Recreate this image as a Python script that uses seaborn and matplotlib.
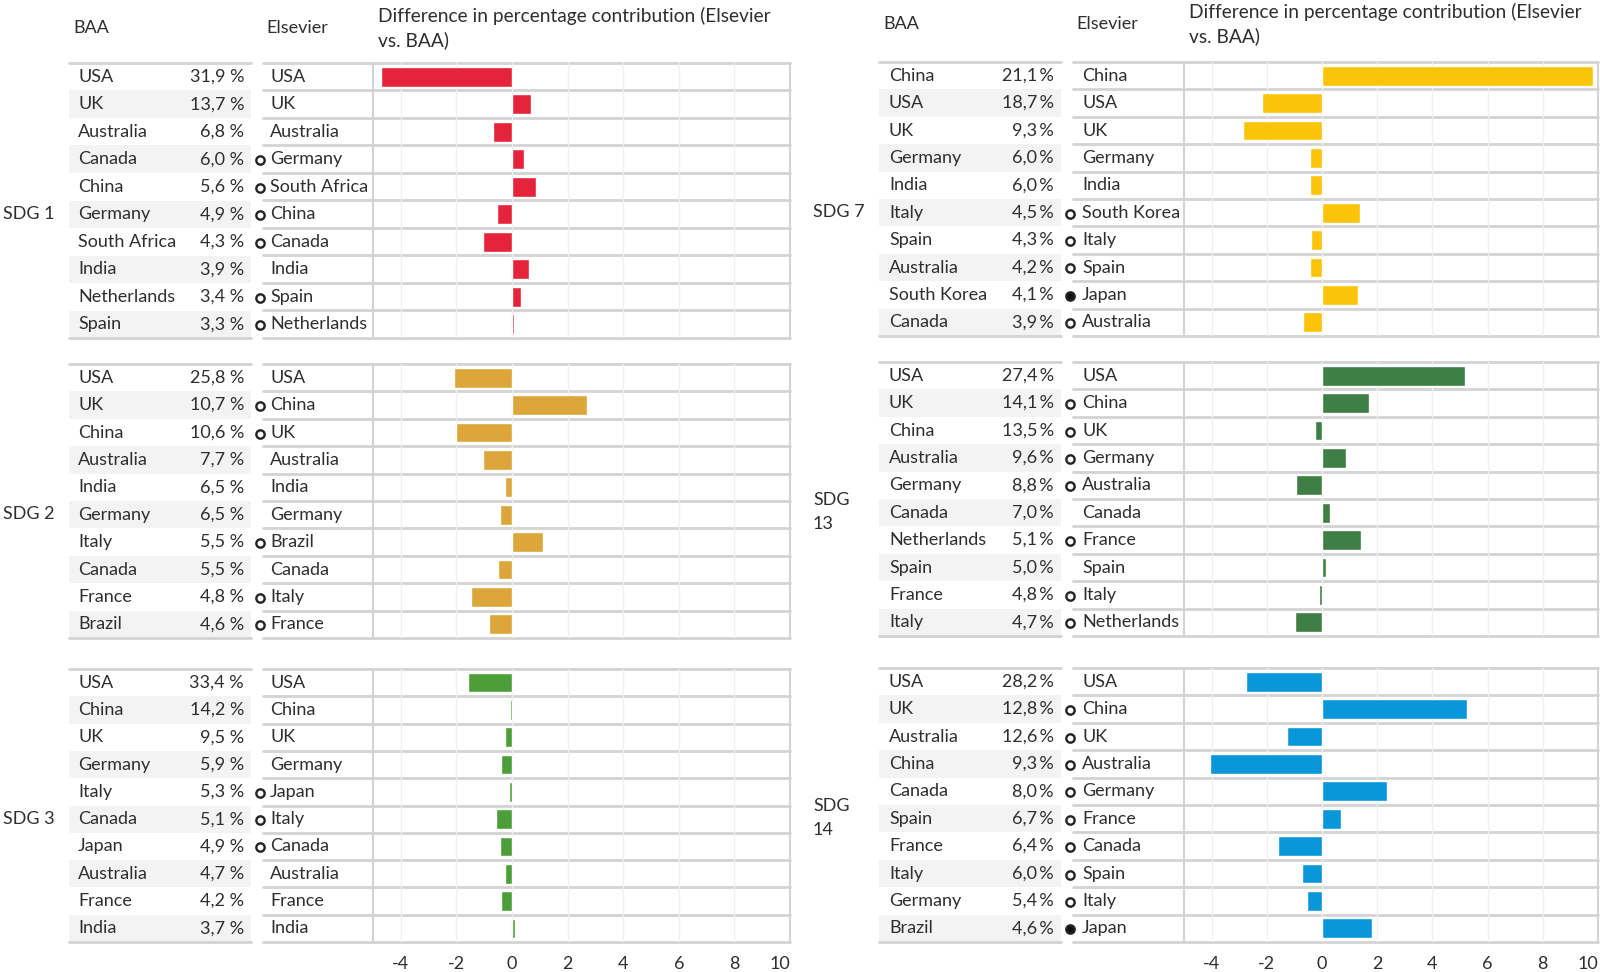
import numpy as np
import pandas as pd
import matplotlib
matplotlib.use('Agg')
import matplotlib.pyplot as plt
from matplotlib.patches import Rectangle
import seaborn as sns

# ---- data ----
# SDG 1
sdg1_baa = ['USA', 'UK', 'Australia', 'Canada', 'China', 'Germany', 'South Africa', 'India', 'Netherlands', 'Spain']
sdg1_pct = [31.9, 13.7, 6.8, 6.0, 5.6, 4.9, 4.3, 3.9, 3.4, 3.3]
sdg1_els = ['USA', 'UK', 'Australia', 'Germany', 'South Africa', 'China', 'Canada', 'India', 'Spain', 'Netherlands']
sdg1_mark = ['', '', '', 'o', 'o', 'o', 'o', '', 'o', 'o']
sdg1_diff = [-4.72, 0.68, -0.70, 0.42, 0.88, -0.55, -1.06, 0.62, 0.33, 0.07]

# SDG 2
sdg2_baa = ['USA', 'UK', 'China', 'Australia', 'India', 'Germany', 'Italy', 'Canada', 'France', 'Brazil']
sdg2_pct = [25.8, 10.7, 10.6, 7.7, 6.5, 6.5, 5.5, 5.5, 4.8, 4.6]
sdg2_els = ['USA', 'China', 'UK', 'Australia', 'India', 'Germany', 'Brazil', 'Canada', 'Italy', 'France']
sdg2_mark = ['', 'o', 'o', '', '', '', 'o', '', 'o', 'o']
sdg2_diff = [-2.10, 2.69, -2.00, -1.06, -0.24, -0.44, 1.10, -0.49, -1.47, -0.82]

# SDG 3
sdg3_baa = ['USA', 'China', 'UK', 'Germany', 'Italy', 'Canada', 'Japan', 'Australia', 'France', 'India']
sdg3_pct = [33.4, 14.2, 9.5, 5.9, 5.3, 5.1, 4.9, 4.7, 4.2, 3.7]
sdg3_els = ['USA', 'China', 'UK', 'Germany', 'Japan', 'Italy', 'Canada', 'Australia', 'France', 'India']
sdg3_mark = ['', '', '', '', 'o', 'o', 'o', '', '', '']
sdg3_diff = [-1.57, -0.07, -0.24, -0.38, -0.09, -0.59, -0.44, -0.24, -0.38, 0.10]

# SDG 7
sdg7_baa = ['China', 'USA', 'UK', 'Germany', 'India', 'Italy', 'Spain', 'Australia', 'South Korea', 'Canada']
sdg7_pct = [21.1, 18.7, 9.3, 6.0, 6.0, 4.5, 4.3, 4.2, 4.1, 3.9]
sdg7_els = ['China', 'USA', 'UK', 'Germany', 'India', 'South Korea', 'Italy', 'Spain', 'Japan', 'Australia']
sdg7_mark = ['', '', '', '', '', 'o', 'o', 'o', 'f', 'o']
sdg7_diff = [9.82, -2.17, -2.86, -0.44, -0.44, 1.38, -0.39, -0.44, 1.32, -0.68]

# SDG 13
sdg13_baa = ['USA', 'UK', 'China', 'Australia', 'Germany', 'Canada', 'Netherlands', 'Spain', 'France', 'Italy']
sdg13_pct = [27.4, 14.1, 13.5, 9.6, 8.8, 7.0, 5.1, 5.0, 4.8, 4.7]
sdg13_els = ['USA', 'China', 'UK', 'Germany', 'Australia', 'Canada', 'France', 'Spain', 'Italy', 'Netherlands']
sdg13_mark = ['', 'o', 'o', 'o', 'o', '', 'o', '', 'o', 'o']
sdg13_diff = [5.19, 1.71, -0.24, 0.88, -0.94, 0.28, 1.43, 0.15, -0.10, -0.99]

# SDG 14
sdg14_baa = ['USA', 'UK', 'Australia', 'China', 'Canada', 'Spain', 'France', 'Italy', 'Germany', 'Brazil']
sdg14_pct = [28.2, 12.8, 12.6, 9.3, 8.0, 6.7, 6.4, 6.0, 5.4, 4.6]
sdg14_els = ['USA', 'China', 'UK', 'Australia', 'Germany', 'France', 'Canada', 'Spain', 'Italy', 'Japan']
sdg14_mark = ['', 'o', 'o', 'o', 'o', 'o', 'o', 'o', 'o', 'f']
sdg14_diff = [-2.75, 5.25, -1.27, -4.07, 2.37, 0.68, -1.58, -0.73, -0.53, 1.82]

sdg_labels = ['SDG 1', 'SDG 2', 'SDG 3', 'SDG 7', 'SDG\n13', 'SDG\n14']
sdg_colors = ['#E5243B', '#DDA63A', '#4C9F38', '#FCC30B', '#3F7E44', '#0A97D9']
x_ticks = [-4, -2, 0, 2, 4, 6, 8, 10]

# ---- style ----
sns.set_theme(style='white')
plt.rcParams['font.family'] = ['Lato', 'DejaVu Sans']
plt.rcParams['axes.unicode_minus'] = False
TXT = '#2e2e2e'
LINE = '#d3d3d3'
FS = 13
HFS = 13.8

W, H = 1600, 972
fig = plt.figure(figsize=(16, 9.72), dpi=100)
bg = fig.add_axes([0, 0, 1, 1])
bg.set_xlim(0, W)
bg.set_ylim(H, 0)
bg.axis('off')

# column positions (pixels) for left and right blocks
left_cols = dict(label=3, baa0=69, baa1=251, name=78, pct=244, els0=263, mark=260,
                 els_name=270, bar0=373, bar1=790, sep=' ')
right_cols = dict(label=813, baa0=879, baa1=1061, name=889, pct=1054, els0=1073, mark=1070,
                  els_name=1082, bar0=1184, bar1=1598, sep='\u2009')


def draw_panel(cols, top, bot, label, baa, pct, els, mark, diff, color, show_axis):
    n = len(baa)
    rh = (bot - top) / n
    ys = [top + rh * (i + 0.5) for i in range(n)]

    # BAA table with banded rows
    for i in range(n):
        if i % 2 == 1:
            bg.add_patch(Rectangle((cols['baa0'], top + rh * i), cols['baa1'] - cols['baa0'], rh,
                                   facecolor='#f3f3f3', lw=0))
    bg.plot([cols['baa0'], cols['baa1']], [top, top], color=LINE, lw=2)
    bg.plot([cols['baa0'], cols['baa1']], [bot, bot], color=LINE, lw=2)
    for i in range(n):
        bg.text(cols['name'], ys[i], baa[i], ha='left', va='center', fontsize=FS, color=TXT)
        bg.text(cols['pct'], ys[i], f'{pct[i]:.1f}'.replace('.', ',') + cols['sep'] + '%',
                ha='right', va='center', fontsize=FS, color=TXT)
        bg.text(cols['els_name'], ys[i], els[i], ha='left', va='center', fontsize=FS, color=TXT)
        if mark[i]:
            bg.plot(cols['mark'], ys[i] + 1, 'o', ms=6, mew=1.7, mec='#222222',
                    mfc='#111111' if mark[i] == 'f' else 'white')

    # row separators across Elsevier column and bars
    for k in range(n + 1):
        bg.plot([cols['els0'], cols['bar1']], [top + rh * k] * 2, color=LINE, lw=2)

    bg.text(cols['label'], (top + bot) / 2 + 13, label, ha='left', va='center',
            fontsize=FS, color=TXT, linespacing=1.55)

    # bars
    ax = fig.add_axes([cols['bar0'] / W, 1 - bot / H, (cols['bar1'] - cols['bar0']) / W, (bot - top) / H])
    ax.patch.set_alpha(0)
    df = pd.DataFrame({'country': els, 'diff': diff})
    sns.barplot(data=df, x='diff', y='country', color=color, saturation=1, width=0.72, ax=ax)
    ax.set_xlim(-5, 10)
    ax.set_ylim(n - 0.5, -0.5)
    ax.set_xticks(x_ticks)
    ax.grid(axis='x', color='#f0f0f0', lw=1)
    ax.set_axisbelow(True)
    ax.set_yticks([])
    ax.set_xlabel('')
    ax.set_ylabel('')
    for s in ['top', 'bottom']:
        ax.spines[s].set_visible(False)
    for s in ['left', 'right']:
        ax.spines[s].set_color(LINE)
        ax.spines[s].set_linewidth(1.5)
    if show_axis:
        ax.tick_params(axis='x', length=0, labelsize=FS, labelcolor=TXT, pad=10)
        labs = ax.get_xticklabels()
        labs[-1].set_horizontalalignment('right')
    else:
        ax.tick_params(axis='x', length=0, labelbottom=False)
    return ax


def headers(cols, y1, y2):
    bg.text(cols['baa0'] + 4, (y1 + y2) / 2, 'BAA', ha='left', va='center', fontsize=FS, color=TXT)
    bg.text(cols['els0'] + 3, (y1 + y2) / 2, 'Elsevier', ha='left', va='center', fontsize=FS, color=TXT)
    bg.text(cols['bar0'] + 5, y1, 'Difference in percentage contribution (Elsevier',
            ha='left', va='center', fontsize=HFS, color=TXT)
    bg.text(cols['bar0'] + 5, y2, 'vs. BAA)', ha='left', va='center', fontsize=HFS, color=TXT)


headers(left_cols, 16, 40)
headers(right_cols, 12, 36)

draw_panel(left_cols, 63, 338, sdg_labels[0], sdg1_baa, sdg1_pct, sdg1_els, sdg1_mark, sdg1_diff, sdg_colors[0], False)
draw_panel(left_cols, 364, 638, sdg_labels[1], sdg2_baa, sdg2_pct, sdg2_els, sdg2_mark, sdg2_diff, sdg_colors[1], False)
draw_panel(left_cols, 669, 942, sdg_labels[2], sdg3_baa, sdg3_pct, sdg3_els, sdg3_mark, sdg3_diff, sdg_colors[2], True)
draw_panel(right_cols, 62, 336, sdg_labels[3], sdg7_baa, sdg7_pct, sdg7_els, sdg7_mark, sdg7_diff, sdg_colors[3], False)
draw_panel(right_cols, 362, 636, sdg_labels[4], sdg13_baa, sdg13_pct, sdg13_els, sdg13_mark, sdg13_diff, sdg_colors[4], False)
draw_panel(right_cols, 668, 942, sdg_labels[5], sdg14_baa, sdg14_pct, sdg14_els, sdg14_mark, sdg14_diff, sdg_colors[5], True)

fig.savefig('out.png', dpi=100, facecolor='white')
